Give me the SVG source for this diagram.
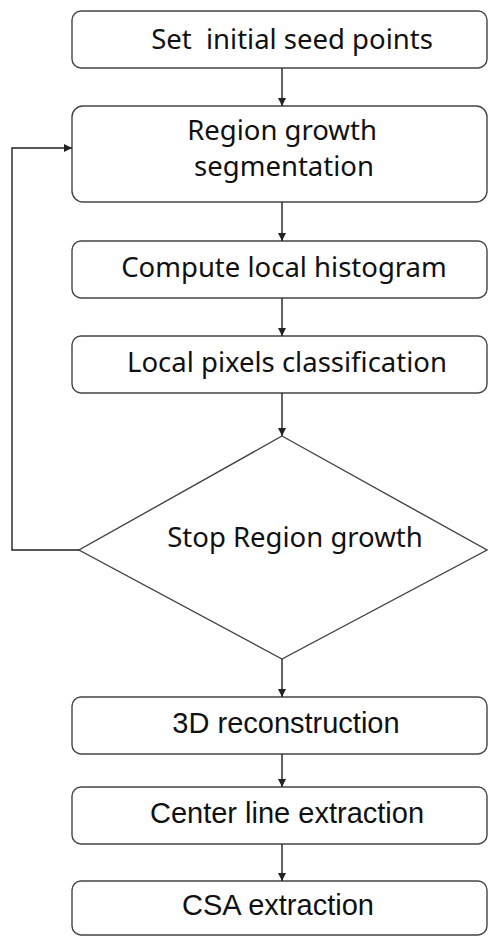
<svg xmlns="http://www.w3.org/2000/svg" width="488" height="936" viewBox="0 0 488 936">
<style>
.box{fill:#fff;stroke:#444;stroke-width:1.4}
.t1{font-family:"Noto Sans","Open Sans",sans-serif;font-size:27.5px;fill:#111;text-anchor:middle;white-space:pre}
.t2{font-family:"Liberation Sans",Arial,sans-serif;font-size:29px;fill:#111;text-anchor:middle}
.ln{fill:none;stroke:#222;stroke-width:1.4}
</style>
<defs>
<marker id="ah" viewBox="0 0 10 10" refX="10" refY="5" markerWidth="8" markerHeight="9" markerUnits="userSpaceOnUse" orient="auto">
<path d="M0,0 L10,5 L0,10 z" fill="#222"/>
</marker>
</defs>
<rect width="488" height="936" fill="#fff"/>
<g id="n1"><rect class="box" x="72" y="11" width="415" height="57" rx="9"/><text class="t1" x="292" y="49" xml:space="preserve">Set  initial seed points</text></g>
<g id="n2"><rect class="box" x="72" y="106" width="415" height="96" rx="11"/><text class="t1" x="282" y="140">Region growth</text><text class="t1" x="284" y="176">segmentation</text></g>
<g id="n3"><rect class="box" x="72" y="241" width="415" height="57" rx="9"/><text class="t1" x="284" y="277">Compute local histogram</text></g>
<g id="n4"><rect class="box" x="72" y="336" width="415" height="57" rx="9"/><text class="t1" x="287" y="372">Local pixels classification</text></g>
<g id="n5"><polygon class="box" points="282,436 487,550 282,659 79,550"/><text class="t1" x="295" y="547">Stop Region growth</text></g>
<g id="n6"><rect class="box" x="72" y="697" width="415" height="57" rx="9"/><text class="t2" x="286" y="733">3D reconstruction</text></g>
<g id="n7"><rect class="box" x="72" y="787" width="415" height="57" rx="9"/><text class="t2" x="287" y="823">Center line extraction</text></g>
<g id="n8"><rect class="box" x="72" y="881" width="415" height="54" rx="9"/><text class="t2" x="278" y="915">CSA extraction</text></g>
<g id="connectors">
<line class="ln" x1="282" y1="68" x2="282" y2="106" marker-end="url(#ah)"/>
<line class="ln" x1="282" y1="202" x2="282" y2="241" marker-end="url(#ah)"/>
<line class="ln" x1="282" y1="298" x2="282" y2="336" marker-end="url(#ah)"/>
<line class="ln" x1="282" y1="393" x2="282" y2="436" marker-end="url(#ah)"/>
<line class="ln" x1="282" y1="659" x2="282" y2="697" marker-end="url(#ah)"/>
<line class="ln" x1="282" y1="754" x2="282" y2="787" marker-end="url(#ah)"/>
<line class="ln" x1="282" y1="844" x2="282" y2="881" marker-end="url(#ah)"/>
<polyline class="ln" points="79,550 12,550 12,148 72,148" marker-end="url(#ah)"/>
</g>
</svg>
